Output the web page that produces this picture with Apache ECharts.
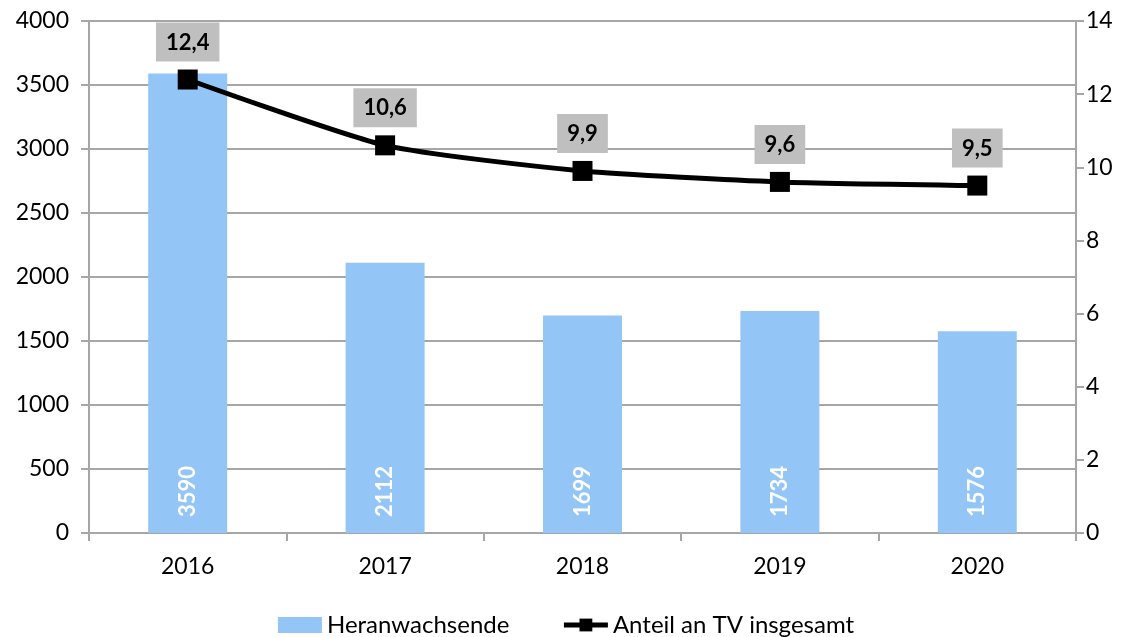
<!DOCTYPE html>
<html><head><meta charset="utf-8">
<script src="https://cdn.jsdelivr.net/npm/echarts@6/dist/echarts.min.js"></script>
<style>html,body{margin:0;padding:0;background:#fff}#c{width:1132px;height:637px}</style>
</head><body><div id="c"></div>
<script>
const categories = ['2016','2017','2018','2019','2020'];
const heranwachsende = [3590, 2112, 1699, 1734, 1576];
const anteil = [12.4, 10.6, 9.9, 9.6, 9.5];
const FONT = 'Lato';
const chart = echarts.init(document.getElementById('c'));
chart.setOption({
  animation: false,
  textStyle: {fontFamily: FONT},
  grid: {left: 89, right: 56, top: 21, bottom: 104},
  legend: {
    top: 608, left: 'center', itemGap: 52, itemWidth: 44, itemHeight: 16,
    textStyle: {fontFamily: FONT, fontSize: 24, color: '#000'},
    data: [
      {name: 'Heranwachsende', icon: 'rect'},
      {name: 'Anteil an TV insgesamt', lineStyle: {width: 5, color: '#000'}}
    ]
  },
  xAxis: {
    type: 'category', data: categories,
    axisLine: {lineStyle: {color: '#a6a6a6', width: 2}},
    axisTick: {show: true, length: 8, lineStyle: {color: '#a6a6a6', width: 2}},
    axisLabel: {fontFamily: FONT, fontSize: 23, color: '#000', margin: 22}
  },
  yAxis: [{
    type: 'value', min: 0, max: 4000, interval: 500,
    axisLine: {show: true, lineStyle: {color: '#a6a6a6', width: 2}},
    axisTick: {show: true, length: 8, lineStyle: {color: '#a6a6a6', width: 2}},
    splitLine: {lineStyle: {color: '#a6a6a6', width: 2}},
    axisLabel: {fontFamily: FONT, fontSize: 23, color: '#000', margin: 20, formatter: v => String(v)}
  }, {
    type: 'value', min: 0, max: 14, interval: 2, position: 'right',
    axisLine: {show: true, lineStyle: {color: '#a6a6a6', width: 2}},
    axisTick: {show: true, length: 8, lineStyle: {color: '#a6a6a6', width: 2}},
    splitLine: {show: false},
    axisLabel: {fontFamily: FONT, fontSize: 23, color: '#000', margin: 10}
  }],
  series: [{
    name: 'Heranwachsende', type: 'bar', data: heranwachsende, barWidth: '40%',
    itemStyle: {color: '#93c6f6'},
    label: {
      show: true, position: 'insideBottom', rotate: 90, align: 'left', verticalAlign: 'middle',
      distance: 16, color: '#fff', fontWeight: 'bold', fontSize: 22, fontFamily: FONT
    }
  }, {
    name: 'Anteil an TV insgesamt', type: 'line', yAxisIndex: 1, data: anteil,
    smooth: 0.2,
    symbol: 'rect', symbolSize: 20,
    lineStyle: {color: '#000', width: 5},
    itemStyle: {color: '#000'},
    label: {
      show: true, position: 'top', distance: 8,
      formatter: p => String(p.value).replace('.', ','),
      backgroundColor: '#bfbfbf', padding: [9, 10, 8, 10],
      color: '#000', fontWeight: 'bold', fontSize: 22, fontFamily: FONT
    }
  }]
});
</script></body></html>
